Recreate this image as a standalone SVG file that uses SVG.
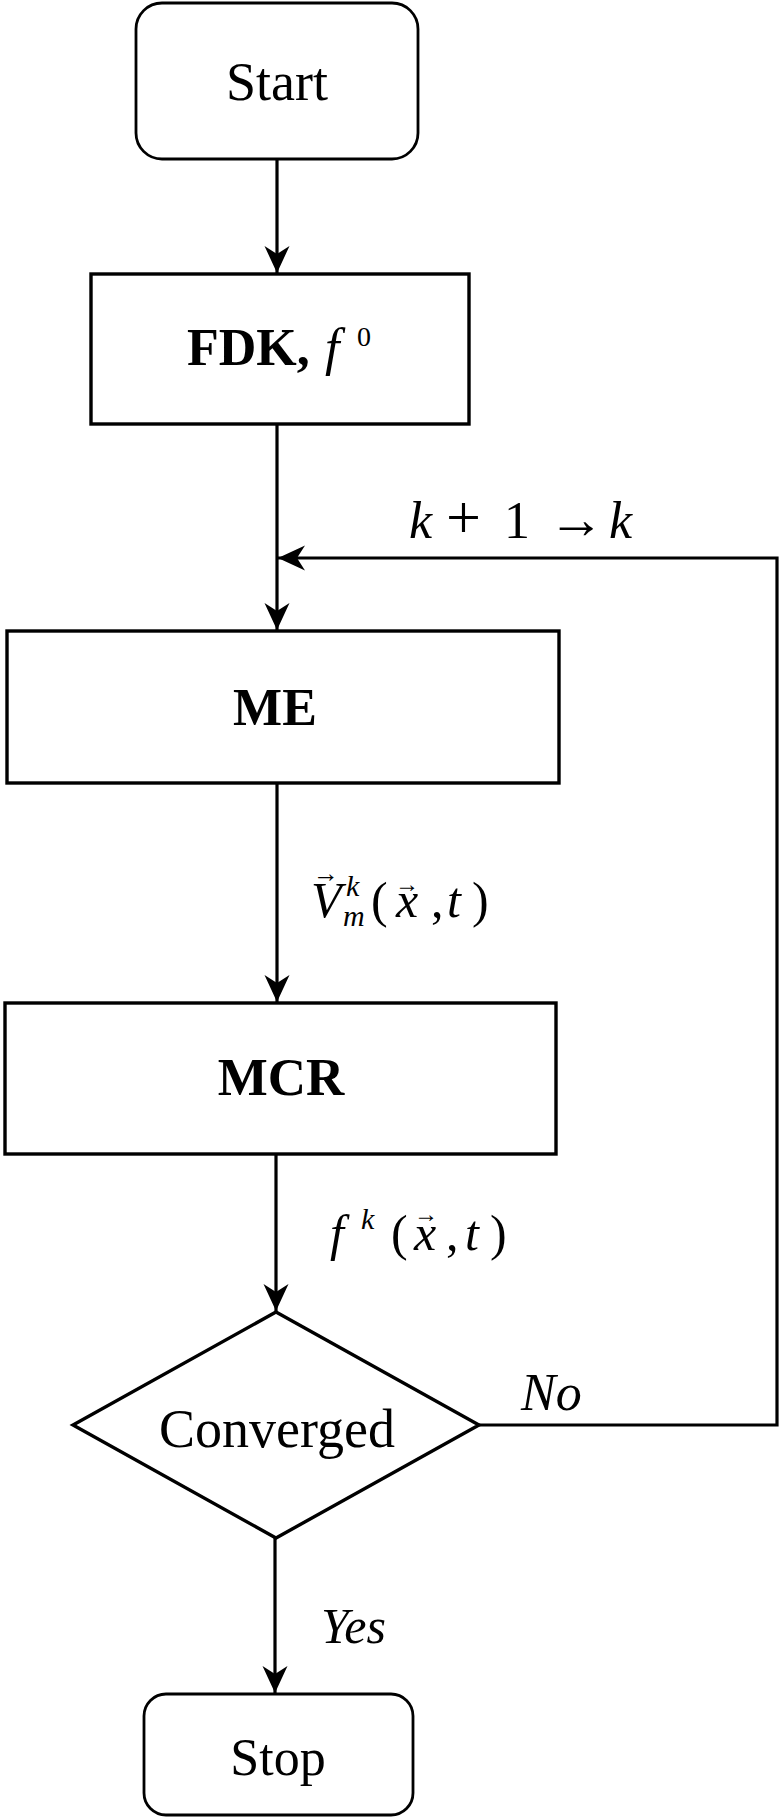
<svg xmlns="http://www.w3.org/2000/svg" width="783" height="1818" viewBox="0 0 783 1818">
<defs>
<style>
.box{fill:#fff;stroke:#000;stroke-width:3.4}
.rbox{fill:#fff;stroke:#000;stroke-width:2.8}
.ln{fill:none;stroke:#000;stroke-width:3.2}
.t{font-family:"Liberation Serif","Times New Roman",serif;fill:#000}
.b{font-weight:bold}
.i{font-style:italic}
.m{font-family:"Liberation Serif","Times New Roman",serif;font-style:italic;fill:#000}
.r{font-style:normal}
</style>
<marker id="ah" viewBox="-30 -15 32 30" markerWidth="32" markerHeight="30" refX="0" refY="0" orient="auto" markerUnits="userSpaceOnUse">
<path d="M0,0 L-27,-12.5 L-19,0 L-27,12.5 Z" fill="#000"/>
</marker>
</defs>
<rect width="783" height="1818" fill="#fff"/>

<g id="connectors">
<line class="ln" x1="277" y1="159" x2="277" y2="273" marker-end="url(#ah)"/>
<line class="ln" x1="277" y1="424" x2="277" y2="630" marker-end="url(#ah)"/>
<polyline class="ln" points="479,1425 777,1425 777,558 278,558" marker-end="url(#ah)"/>
<line class="ln" x1="277" y1="783" x2="277" y2="1002" marker-end="url(#ah)"/>
<line class="ln" x1="276" y1="1154" x2="276" y2="1311" marker-end="url(#ah)"/>
<line class="ln" x1="275" y1="1538" x2="275" y2="1693" marker-end="url(#ah)"/>
<text class="m" font-size="52" y="538"><tspan x="409">k</tspan><tspan class="r" font-size="62" x="446">+</tspan><tspan class="r" x="504">1</tspan><tspan class="r" font-size="56" x="548">→</tspan><tspan x="609">k</tspan></text>
<text id="label-v" class="m" font-size="50"><tspan x="311" y="917">V</tspan><tspan class="r" font-size="26" x="313" y="882">→</tspan><tspan font-size="30" x="346" y="896">k</tspan><tspan font-size="30" x="343" y="926">m</tspan><tspan class="r" x="371" y="917">(</tspan><tspan x="396" y="917">x</tspan><tspan class="r" font-size="24" x="395" y="892">→</tspan><tspan class="r" x="431" y="917">,</tspan><tspan x="447" y="917">t</tspan><tspan class="r" x="472" y="917">)</tspan></text>
<text id="label-f" class="m" font-size="50"><tspan x="330" y="1250">f</tspan><tspan font-size="30" x="361" y="1229">k</tspan><tspan class="r" x="391" y="1250">(</tspan><tspan x="414" y="1250">x</tspan><tspan class="r" font-size="24" x="414" y="1222">→</tspan><tspan class="r" x="446" y="1250">,</tspan><tspan x="465" y="1250">t</tspan><tspan class="r" x="490" y="1250">)</tspan></text>
<text class="t i" font-size="52" x="521" y="1410">No</text>
<text class="t i" font-size="50" x="321" y="1643">Yes</text>
</g>

<g id="start">
<rect class="rbox" x="136" y="3" width="282" height="156" rx="26" ry="26"/>
<text class="t" font-size="54" x="277" y="100" text-anchor="middle">Start</text>
</g>

<g id="fdk">
<rect class="box" x="91" y="274" width="378" height="150"/>
<text class="t" font-size="52" y="365"><tspan class="b" x="187">FDK,</tspan><tspan class="i" x="325">f</tspan><tspan font-size="28" x="357" y="346">0</tspan></text>
</g>

<g id="me">
<rect class="box" x="7" y="631" width="552" height="152"/>
<text class="t b" font-size="52" x="275" y="725" text-anchor="middle">ME</text>
</g>

<g id="mcr">
<rect class="box" x="5" y="1003" width="551" height="151"/>
<text class="t b" font-size="53" x="281" y="1095" text-anchor="middle">MCR</text>
</g>

<g id="converged">
<polygon class="box" points="276,1312 479,1425 276,1538 73,1425"/>
<text class="t" font-size="54" x="277" y="1447" text-anchor="middle">Converged</text>
</g>

<g id="stop">
<rect class="rbox" x="144" y="1694" width="269" height="121" rx="22" ry="22"/>
<text class="t" font-size="52" x="278" y="1775" text-anchor="middle">Stop</text>
</g>
</svg>
